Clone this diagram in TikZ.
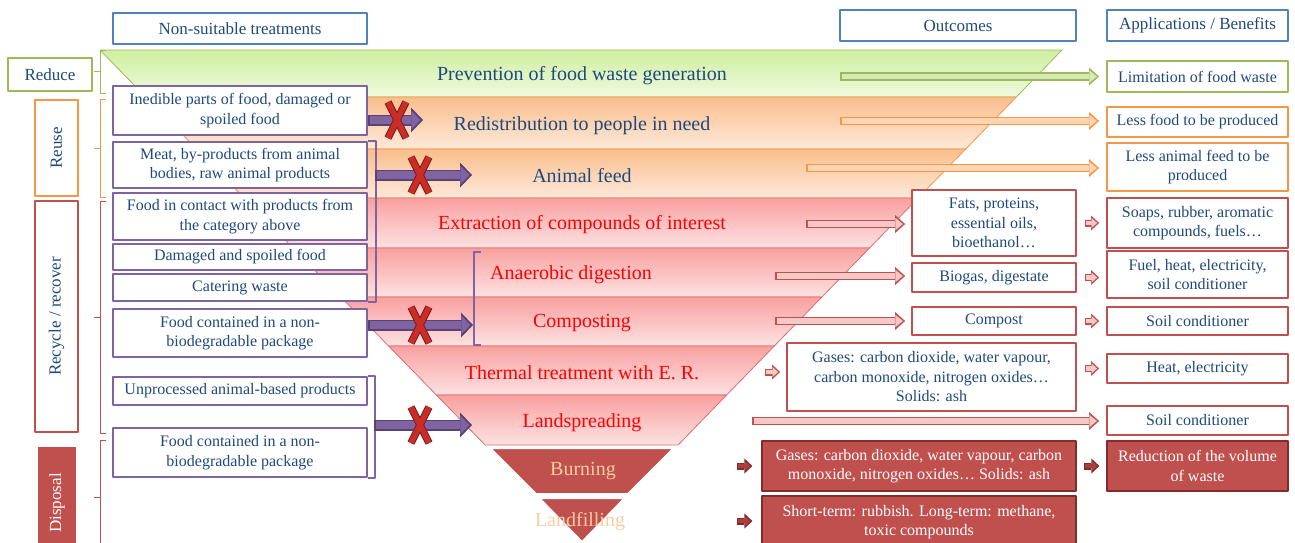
\documentclass[tikz,border=0pt]{standalone}
\usepackage{fontspec}
\setmainfont{Liberation Serif}
\usetikzlibrary{arrows.meta}
\definecolor{txtb}{RGB}{31,73,125}
\definecolor{hdb}{RGB}{79,129,189}
\definecolor{grn}{RGB}{155,187,89}
\definecolor{grnl}{RGB}{215,232,185}
\definecolor{org}{RGB}{247,150,70}
\definecolor{orgl}{RGB}{252,213,181}
\definecolor{rd}{RGB}{192,80,77}
\definecolor{rdl}{RGB}{245,200,200}
\definecolor{rdd}{RGB}{130,45,42}
\definecolor{rdm}{RGB}{170,62,60}
\definecolor{purp}{RGB}{128,100,162}
\definecolor{purpd}{RGB}{88,66,116}
\definecolor{gtop}{RGB}{208,238,160}
\definecolor{gbot}{RGB}{238,250,222}
\definecolor{otop}{RGB}{250,190,140}
\definecolor{obot}{RGB}{253,233,218}
\definecolor{rtop}{RGB}{249,160,160}
\definecolor{rbot}{RGB}{253,226,226}
\definecolor{rline}{RGB}{222,110,110}
\definecolor{tanc}{RGB}{250,205,160}
\definecolor{xred}{RGB}{200,45,40}
\definecolor{xredd}{RGB}{135,25,25}
\begin{document}
\begin{tikzpicture}[x=1pt, y=-1pt, line join=round,
    declare function={xl(\u)=100+0.975*(\u-50); xr(\u)=1062-0.972*(\u-50);},
    ebox/.style={draw=#1, line width=1.8pt, fill=white, text=txtb, align=center, inner sep=1pt, font=\fontsize{16}{19.5}\selectfont},
    dbox/.style={draw=rdd, line width=1.2pt, fill=rd, text=white, align=center, inner sep=1pt, font=\fontsize{16}{19.5}\selectfont},
    hdr/.style={ebox=hdb, minimum height=31pt, font=\fontsize{17}{20}\selectfont},
    side/.style={ebox=#1, font=\fontsize{17}{20}\selectfont},
    lay/.style={font=\fontsize{20}{22}\selectfont, inner sep=0pt},
    pbr/.style={draw=purp, line width=2.6pt},
    xmk/.style={draw=xred, line width=5.5pt, preaction={draw=xredd, line width=7.5pt}},
    barrow/.style 2 args={draw=#1, line width=8.5pt, -{Triangle[length=10pt,width=18pt,line width=0pt]},
        postaction={draw=#2, line width=5.5pt, shorten <=1.5pt, shorten >=2.2pt, -{Triangle[length=7.6pt,width=12.5pt,line width=0pt]}}},
    sarrow/.style 2 args={draw=#1, line width=7pt, -{Triangle[length=8pt,width=15pt,line width=0pt]},
        postaction={draw=#2, line width=4.2pt, shorten <=1.4pt, shorten >=2pt, -{Triangle[length=5.6pt,width=10pt,line width=0pt]}}},
    parrow/.style={draw=purpd, line width=11pt, -{Triangle[length=12pt,width=25pt,line width=0pt]},
        postaction={draw=purp, line width=7.5pt, shorten <=1.8pt, shorten >=2.6pt, -{Triangle[length=9pt,width=18.5pt,line width=0pt]}}}]
    \useasboundingbox (0,0) rectangle (1295,542);
    \clip (0,0) rectangle (1295,542);
    \foreach \ya/\yb/\tc/\bc/\lc in {50/97/gtop/gbot/grn, 97/149/otop/obot/org, 149/198/otop/obot/org, 198/248/rtop/rbot/rline, 248/297/rtop/rbot/rline, 297/346/rtop/rbot/rline, 346/395/rtop/rbot/rline, 395/445/rtop/rbot/rline}
        \path[draw=\lc, line width=0.8pt, top color=\tc, bottom color=\bc] ({xl(\ya)},\ya) -- ({xr(\ya)},\ya) -- ({xr(\yb)},\yb) -- ({xl(\yb)},\yb) -- cycle;
    \path[draw=white, line width=2pt, fill=rd] (490,448) -- (674,448) -- (628,494) -- (536,494) -- cycle;
    \path[draw=white, line width=2pt, fill=rd] (539,498) -- (625,498) -- (582,542) -- cycle;
    \foreach \n/\x/\y/\c/\txt in {L1/582/75.5/txtb/{Prevention of food waste generation}, L2/582/125.5/txtb/{Redistribution to people in need}, L3/582/175.5/txtb/{Animal feed}, L4/582/224.5/red/{Extraction of compounds of interest}, L5/571/274.5/red/{Anaerobic digestion}, L6/582/323.5/red/{Composting}, L7/582/372.5/red/{Thermal treatment with E. R.}, L8/582/422.5/red/{Landspreading}, L9/583/471.5/tanc/{Burning}, L10/580/521.5/tanc/{Landfilling}}
        \node[lay, text=\c] (\n) at (\x,\y) {\txt};
    \foreach \ya/\yb/\c in {50/93/grn, 99/197/org, 201/433/rd, 440/554/rd}
        \draw[\c, line width=0.9pt] (106,\ya) -- (100,\ya) -- (100,\yb) -- (106,\yb) (100,{(\ya+\yb)/2}) -- (94,{(\ya+\yb)/2});
    \node[side=grn, minimum width=84pt, minimum height=33pt] (reduce) at (50,74.5) {Reduce};
    \node[side=org, rotate=90, minimum width=96pt, minimum height=43pt] (reuse) at (56.5,148) {Reuse};
    \node[side=rd, rotate=90, minimum width=231pt, minimum height=43pt] (recycle) at (56.5,316.5) {Recycle / recover};
    \node[side=rd, fill=rd, draw=none, text=white, rotate=90, minimum width=112pt, minimum height=38pt] (disposal) at (57,503) {Disposal};
    \node[hdr, minimum width=254pt] (hnon) at (240,28.5) {Non-suitable treatments};
    \node[hdr, minimum width=236pt] (hout) at (958,25.5) {Outcomes};
    \node[hdr, minimum width=181pt] (happ) at (1197.5,25.5) {Applications / Benefits};
    \foreach \n/\y/\h/\txt in {p1/110.5/49/{Inedible parts of food, damaged or\\spoiled food}, p2/165/46/{Meat, by-products from animal\\bodies, raw animal products}, p3/216.5/47/{Food in contact with products from\\the category above}, p4/257/26/{Damaged and spoiled food}, p5/287.5/27/{Catering waste}, p6/333/48/{Food contained in a non-\\biodegradable package}, p7/391/28/{Unprocessed animal-based products}, p8/452.5/49/{Food contained in a non-\\biodegradable package}}
        \node[ebox=purp, minimum width=254pt, minimum height=\h pt] (\n) at (240,\y) {\txt};
    \node[ebox=rd, minimum width=164pt, minimum height=66pt] (o1) at (994,223) {Fats, proteins,\\essential oils,\\bioethanol…};
    \node[ebox=rd, minimum width=164pt, minimum height=29pt] (o2) at (994,277.5) {Biogas, digestate};
    \node[ebox=rd, minimum width=164pt, minimum height=28pt] (o3) at (994,321) {Compost};
    \node[ebox=rd, minimum width=289pt, minimum height=68pt] (o4) at (931.5,377) {Gases: carbon dioxide, water vapour,\\carbon monoxide, nitrogen oxides…\\Solids: ash};
    \node[dbox, minimum width=314pt, minimum height=50pt] (o5) at (919,466) {Gases: carbon dioxide, water vapour, carbon\\monoxide, nitrogen oxides… Solids: ash};
    \node[dbox, minimum width=314pt, minimum height=52pt] (o6) at (919,522) {Short-term: rubbish. Long-term: methane,\\toxic compounds};
    \foreach \n/\y/\h/\c/\txt in {a1/76.5/31/grn/{Limitation of food waste}, a2/122/30/org/{Less food to be produced}, a3/167/48/org/{Less animal feed to be\\produced}, a4/223/50/rd/{Soaps, rubber, aromatic\\compounds, fuels…}, a5/274.5/47/rd/{Fuel, heat, electricity,\\soil conditioner}, a6/321/28/rd/{Soil conditioner}, a7/368.5/29/rd/{Heat, electricity}, a8/420.5/29/rd/{Soil conditioner}}
        \node[ebox=\c, minimum width=181pt, minimum height=\h pt] (\n) at (1197.5,\y) {\txt};
    \node[dbox, minimum width=181pt, minimum height=50pt] (a9) at (1197.5,466) {Reduction of the volume\\of waste};
    \draw[pbr] (p2.north east) -- ++(8,0) |- (p5.south east);
    \draw[pbr] (p7.north east) -- ++(7,0) |- (p8.south east);
    \draw[pbr] (481,252) -- (474,252) -- (474,345) -- (481,345);
    \coordinate (x1) at (423,120);
    \coordinate (brA) at (375,175);
    \coordinate (x2) at (472,175);
    \coordinate (x3) at (473,325);
    \coordinate (brB) at (374,425);
    \coordinate (x4) at (472,425);
    \draw[parrow] ([yshift=-9.5pt]p1.east) -- (x1);
    \draw[parrow] (brA) -- (x2);
    \draw[parrow] ([yshift=8pt]p6.east) -- (x3);
    \draw[parrow] (brB) -- (x4);
    \foreach \cx/\cy in {397/120, 420/175, 420/325, 420/425}
        \draw[xmk] (\cx-9,\cy-18) -- (\cx+9,\cy+18) (\cx+9,\cy-18) -- (\cx-9,\cy+18);
    \coordinate (g0) at (840,76.5);
    \coordinate (r0) at (840,121);
    \coordinate (f0) at (806,168);
    \coordinate (e0) at (806,224);
    \coordinate (d0) at (775,276);
    \coordinate (c0) at (775,321);
    \coordinate (t0) at (765,372);
    \coordinate (s0) at (752,421);
    \coordinate (b0) at (737,466);
    \coordinate (l0) at (737,521);
    \draw[barrow={grn}{grnl}] (g0) -- ([xshift=-7pt]g0 -| a1.west);
    \draw[barrow={org}{orgl}] (r0) -- ([xshift=-7pt]r0 -| a2.west);
    \draw[barrow={org}{orgl}] (f0) -- ([xshift=-7pt]f0 -| a3.west);
    \draw[barrow={rd}{rdl}] (e0) -- ([xshift=-6pt]e0 -| o1.west);
    \draw[barrow={rd}{rdl}] (d0) -- ([xshift=-6pt]d0 -| o2.west);
    \draw[barrow={rd}{rdl}] (c0) -- ([xshift=-6pt]c0 -| o3.west);
    \draw[barrow={rd}{rdl}] (s0) -- ([xshift=-7pt]s0 -| a8.west);
    \draw[sarrow={rd}{rdl}] (t0) -- ([xshift=-6pt]t0 -| o4.west);
    \draw[sarrow={rd}{rdl}] ([xshift=8pt]o1.east) -- ([xshift=-7pt]o1.east -| a4.west);
    \draw[sarrow={rd}{rdl}] ([xshift=8pt]o2.east) -- ([xshift=-7pt]o2.east -| a5.west);
    \draw[sarrow={rd}{rdl}] ([xshift=8pt]o3.east) -- ([xshift=-7pt]o3.east -| a6.west);
    \draw[sarrow={rd}{rdl}] ([xshift=8pt]a7.west -| o4.east) -- ([xshift=-7pt]a7.west);
    \draw[sarrow={rdd}{rdm}] (b0) -- ([xshift=-9pt]b0 -| o5.west);
    \draw[sarrow={rdd}{rdm}] (l0) -- ([xshift=-9pt]l0 -| o6.west);
    \draw[sarrow={rdd}{rdm}] ([xshift=7pt]o5.east) -- ([xshift=-7pt]o5.east -| a9.west);
\end{tikzpicture}
\end{document}
